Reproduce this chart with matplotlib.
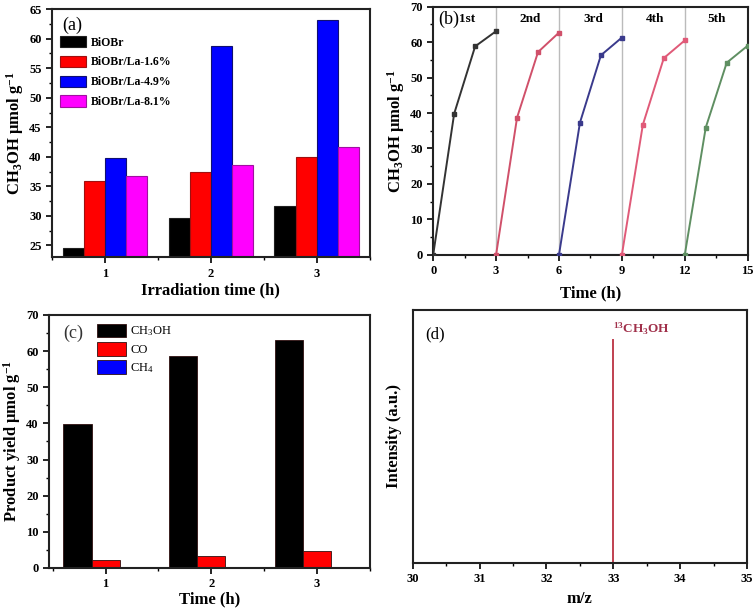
import matplotlib
matplotlib.use("Agg")
import matplotlib.pyplot as plt
import numpy as np
from matplotlib.ticker import MultipleLocator, AutoMinorLocator

plt.rcParams['font.family'] = ['Liberation Serif', 'DejaVu Serif']
plt.rcParams['mathtext.fontset'] = 'custom'
plt.rcParams['mathtext.rm'] = 'Liberation Serif'
plt.rcParams['mathtext.bf'] = 'Liberation Serif:bold'
plt.rcParams['mathtext.it'] = 'Liberation Serif:italic'

# ---- data (a)
times_a = [1, 2, 3]
samples_a = ['BiOBr', 'BiOBr/La-1.6%', 'BiOBr/La-4.9%', 'BiOBr/La-8.1%']
biobr = [24.5, 29.6, 31.7]
la16 = [35.9, 37.4, 40.0]
la49 = [39.8, 58.7, 63.1]
la81 = [36.7, 38.7, 41.7]
colors_a = ['#000000', '#ff0000', '#0000ff', '#ff00ff']
edges_a = ['#202020', '#a01010', '#101070', '#a010a0']

# ---- data (b)
cycle_labels = ['1st', '2nd', '3rd', '4th', '5th']
cycle_t = [[0, 1, 2, 3], [3, 4, 5, 6], [6, 7, 8, 9], [9, 10, 11, 12], [12, 13, 14, 15]]
cycle_y = [[0, 39.8, 58.8, 63.1], [0, 38.7, 57.2, 62.7], [0, 37.3, 56.3, 61.3],
           [0, 36.7, 55.5, 60.5], [0, 35.9, 54.2, 59.0]]
cycle_colors = ['#333333', '#d0506a', '#3a3a8c', '#e05a78', '#5f8f62']
baseline_t = [6, 12]
baseline_y = [0, 0]

# ---- data (c)
times_c = [1, 2, 3]
products = ['CH$_3$OH', 'CO', 'CH$_4$']
ch3oh = [39.8, 58.7, 63.1]
co = [2.1, 3.2, 4.7]
ch4 = [0.3, 0.3, 0.4]
colors_c = ['#000000', '#ff0000', '#0000ff']

# ---- data (d)
mz_peak = [33, 33]
int_peak = [0, 0.88]
mz_base = [30, 35]
int_base = [0, 0]

fig = plt.figure(figsize=(7.56, 6.11), dpi=100)

def style(ax):
    for s in ax.spines.values():
        s.set_linewidth(1.5)
        s.set_color('#222222')
    ax.tick_params(which='both', direction='out', top=False, right=False)
    ax.tick_params(which='major', length=4, width=1.2, labelsize=9)
    ax.tick_params(which='minor', length=2.5, width=1.0)
    for lab in ax.get_xticklabels() + ax.get_yticklabels():
        lab.set_fontweight('bold')

# ---------- (a)
ax = fig.add_axes([0.069, 0.579, 0.420, 0.406])
w = 0.2
series_a = [biobr, la16, la49, la81]
x = np.array(times_a, dtype=float)
for i, (vals, c, e, lab) in enumerate(zip(series_a, colors_a, edges_a, samples_a)):
    ax.bar(x + (i - 1.5) * w, vals, width=w, color=c, edgecolor=e, linewidth=0.8,
           label=lab)
ax.set_xlim(0.5, 3.5)
ax.set_ylim(23, 65)
ax.set_xticks(times_a)
ax.yaxis.set_major_locator(MultipleLocator(5))
ax.yaxis.set_minor_locator(AutoMinorLocator(2))
ax.xaxis.set_minor_locator(MultipleLocator(0.5))
ax.set_xlabel('Irradiation time (h)', fontsize=12, fontweight='bold', labelpad=2)
ax.set_ylabel(r'$\mathbf{CH_3OH\ \mu mol\ g^{-1}}$', fontsize=12, labelpad=2)
style(ax)
ax.text(0.6, 62.3, '(a)', fontsize=13, ha='left', va='center')
ax.legend(loc='upper left', bbox_to_anchor=(0.0, 0.925), frameon=False,
          prop={'weight': 'bold', 'size': 8.5}, handlelength=2.2, handleheight=1.1,
          labelspacing=0.6, handletextpad=0.35, borderaxespad=0.3)

# ---------- (b)
ax = fig.add_axes([0.573, 0.583, 0.416, 0.406])
for xv in [3, 6, 9, 12]:
    ax.axvline(xv, color='#bbbbbb', lw=1.0, zorder=1)
ax.plot(baseline_t, baseline_y, color='#3a3a8c', lw=1.5, zorder=2)
for t, y, c in zip(cycle_t, cycle_y, cycle_colors):
    ax.plot(t, y, color=c, lw=1.4, marker='s', ms=2.5, zorder=3)
ax.set_xlim(0, 15)
ax.set_ylim(0, 70)
ax.xaxis.set_major_locator(MultipleLocator(3))
ax.xaxis.set_minor_locator(AutoMinorLocator(2))
ax.yaxis.set_major_locator(MultipleLocator(10))
ax.yaxis.set_minor_locator(AutoMinorLocator(2))
ax.set_xlabel('Time (h)', fontsize=12, fontweight='bold', labelpad=6)
ax.set_ylabel(r'$\mathbf{CH_3OH\ \mu mol\ g^{-1}}$', fontsize=12, labelpad=2)
style(ax)
ax.text(0.25, 66.5, '(b)', fontsize=13, ha='left', va='center')
lab_x = [1.6, 4.65, 7.65, 10.6, 13.5]
for lx, lab in zip(lab_x, cycle_labels):
    ax.text(lx, 66.5, lab, fontsize=9.5, fontweight='bold', ha='center', va='center')

# ---------- (c)
ax = fig.add_axes([0.065, 0.0704, 0.424, 0.4141])
wc = 0.267
xc = np.array(times_c, dtype=float)
for i, (vals, c, lab) in enumerate(zip([ch3oh, co, ch4], colors_c, products)):
    ax.bar(xc + (i - 1) * wc, vals, width=wc, color=c, edgecolor='#301010', linewidth=0.6,
           label=lab)
ax.set_xlim(0.465, 3.5)
ax.set_ylim(0, 70)
ax.set_xticks(times_c)
ax.xaxis.set_minor_locator(MultipleLocator(0.5))
ax.yaxis.set_major_locator(MultipleLocator(10))
ax.yaxis.set_minor_locator(AutoMinorLocator(2))
ax.set_xlabel('Time (h)', fontsize=12, fontweight='bold', labelpad=1)
ax.set_ylabel(r'$\mathbf{Product\ yield\ \mu mol\ g^{-1}}$', fontsize=12, labelpad=2)
style(ax)
ax.text(0.6, 64.8, '(c)', fontsize=13, ha='left', va='center', color='#333333')
ax.legend(loc='upper left', bbox_to_anchor=(0.115, 1.01), frameon=False,
          prop={'size': 9}, handlelength=2.3, handleheight=1.3,
          labelspacing=0.3, handletextpad=0.35)

# ---------- (d)
ax = fig.add_axes([0.546, 0.0786, 0.442, 0.414])
ax.plot(mz_base, int_base, color='#c04050', lw=1.2)
ax.plot(mz_peak, int_peak, color='#c04050', lw=1.4)
ax.set_xlim(30, 35)
ax.set_ylim(0, 1.0)
ax.set_yticks([])
ax.xaxis.set_major_locator(MultipleLocator(1))
ax.xaxis.set_minor_locator(AutoMinorLocator(2))
ax.set_xlabel('m/z', fontsize=12, fontweight='bold', labelpad=4)
ax.set_ylabel('Intensity (a.u.)', fontsize=12, fontweight='bold', labelpad=8)
style(ax)
ax.text(30.18, 0.905, '(d)', fontsize=12, ha='left', va='center')
ax.text(33.0, 0.925, r'$\mathbf{^{13}CH_3OH}$', fontsize=9.5, color='#a0304a',
        ha='left', va='center')

fig.savefig('out.png', dpi=100)
